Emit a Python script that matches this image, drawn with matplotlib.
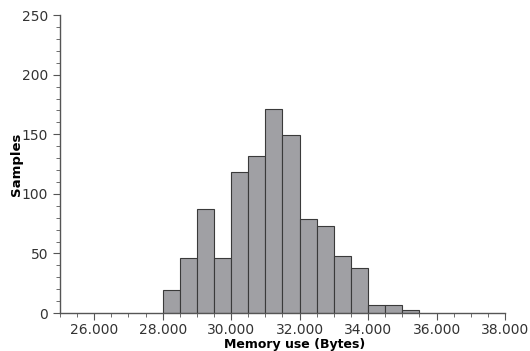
import numpy as np
import matplotlib.pyplot as plt
from matplotlib.ticker import MultipleLocator, FuncFormatter

# histogram bins (left edges, width 500 bytes) and sample counts
bin_left = [28000, 28500, 29000, 29500, 30000, 30500, 31000, 31500,
            32000, 32500, 33000, 33500, 34000, 34500, 35000]
counts = [19, 46, 87, 46, 118, 132, 171, 149, 79, 73, 48, 38, 7, 7, 3]
bin_width = 500

fig = plt.figure(figsize=(5.3, 3.51), dpi=100)
ax = fig.add_axes([0.113, 0.108, 0.84, 0.849])

ax.bar(bin_left, counts, width=bin_width, align="edge",
       color="#a0a0a4", edgecolor="#3a3a3a", linewidth=0.8)

ax.set_xlim(25000, 38000)
ax.set_ylim(0, 250)
ax.xaxis.set_minor_locator(MultipleLocator(500))
ax.yaxis.set_major_locator(MultipleLocator(50))
ax.yaxis.set_minor_locator(MultipleLocator(10))
ax.set_xticks([26000, 28000, 30000, 32000, 34000, 36000, 38000])
ax.xaxis.set_major_formatter(FuncFormatter(lambda v, p: f"{int(v):,}".replace(",", ".")))

for s in ["top", "right"]:
    ax.spines[s].set_visible(False)
for s in ["left", "bottom"]:
    ax.spines[s].set_color("#555555")
    ax.spines[s].set_linewidth(1.0)

ax.tick_params(which="both", color="#555555", labelcolor="#333333", labelsize=10)
ax.tick_params(which="major", length=5)
ax.tick_params(which="minor", length=3)
ax.tick_params(axis="x", pad=2)

ax.set_xlabel("Memory use (Bytes)", fontweight="bold", fontsize=9, color="black")
ax.set_ylabel("Samples", fontweight="bold", fontsize=9.5, color="black")
ax.xaxis.set_label_coords(0.528, -0.084)
ax.yaxis.set_label_coords(-0.083, 0.5)

plt.savefig("out.png", dpi=100)
